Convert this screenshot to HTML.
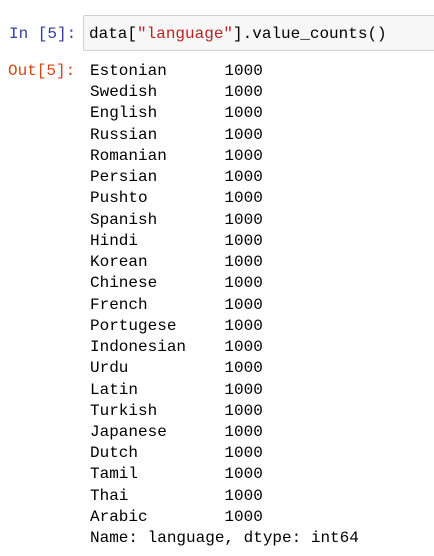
<!DOCTYPE html>
<html><head><style>
body{margin:0;width:434px;height:556px;background:#fff;position:relative;overflow:hidden;font-family:"Liberation Mono",monospace;font-size:16px;}
.p{position:absolute;white-space:pre;}
#box{position:absolute;left:83px;top:15px;width:360px;height:36px;background:#f7f7f7;border:1px solid #cfcfcf;border-radius:2px;box-sizing:border-box;}
</style></head><body>
<div class="p" style="left:9px;top:23px;color:#303f9f;line-height:22px">In [5]:</div>
<div id="box"></div>
<div class="p" style="left:89px;top:23px;line-height:22px;color:#000">data[<span style="color:#ba2121">"language"</span>].value_counts()</div>
<div class="p" style="left:8px;top:61px;color:#d84315;line-height:21.2px">Out[5]:</div>
<div class="p" style="left:90px;top:61px;line-height:21.24px;color:#000">Estonian      1000
Swedish       1000
English       1000
Russian       1000
Romanian      1000
Persian       1000
Pushto        1000
Spanish       1000
Hindi         1000
Korean        1000
Chinese       1000
French        1000
Portugese     1000
Indonesian    1000
Urdu          1000
Latin         1000
Turkish       1000
Japanese      1000
Dutch         1000
Tamil         1000
Thai          1000
Arabic        1000
Name: language, dtype: int64</div>
</body></html>
